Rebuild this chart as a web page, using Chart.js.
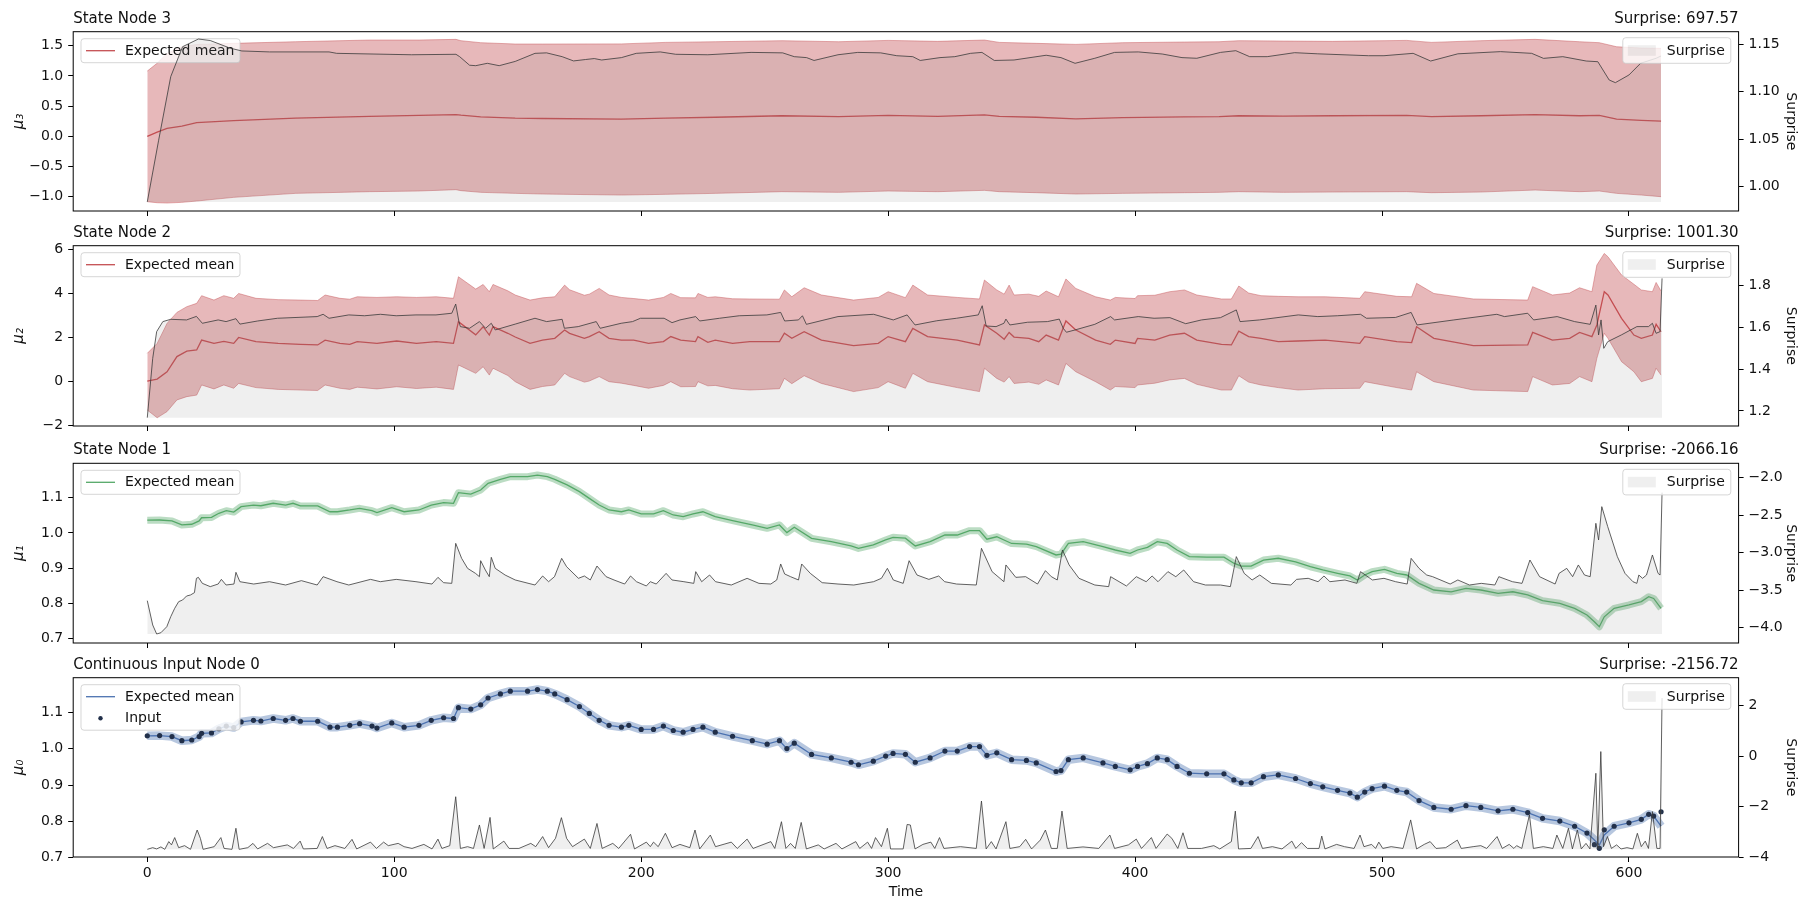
<!DOCTYPE html>
<html>
<head>
<meta charset="utf-8">
<title>Node trajectories</title>
<script src="https://cdn.jsdelivr.net/npm/chart.js@4.4.1/dist/chart.umd.min.js"></script>
<style>
    html, body { margin: 0; padding: 0; background: #ffffff; }
    body { position: relative; width: 1811px; height: 911px; overflow: hidden; }
    canvas { position: absolute; left: 0; }
</style>
</head>
<body>
<canvas id="node3Chart"></canvas>
<canvas id="node2Chart"></canvas>
<canvas id="node1Chart"></canvas>
<canvas id="node0Chart"></canvas>
<script>
// ---- shared time axis ----
const timeTicks = [0, 100, 200, 300, 400, 500, 600];
const timeRange = [-30.0, 644.4];

// ---- State Node 3 ----
const node3BandT = [0, 4, 8, 14, 20, 35, 60, 90, 110, 125, 127, 135, 149, 160, 192, 210, 230, 257, 280, 300, 320, 339, 345, 360, 376, 395, 420, 434, 442, 460, 480, 510, 520, 540, 562, 580, 588, 595, 605, 613];
const node3Mean = [0.0, 0.07, 0.13, 0.17, 0.225, 0.26, 0.30, 0.33, 0.345, 0.36, 0.35, 0.32, 0.30, 0.295, 0.285, 0.30, 0.315, 0.34, 0.325, 0.345, 0.33, 0.355, 0.33, 0.315, 0.29, 0.31, 0.32, 0.325, 0.34, 0.335, 0.34, 0.345, 0.325, 0.34, 0.36, 0.34, 0.345, 0.285, 0.265, 0.25];
const node3Upper = [1.08, 1.21, 1.373, 1.483, 1.52, 1.539, 1.566, 1.594, 1.594, 1.605, 1.583, 1.55, 1.528, 1.528, 1.53, 1.555, 1.566, 1.583, 1.566, 1.588, 1.572, 1.594, 1.555, 1.539, 1.522, 1.55, 1.561, 1.566, 1.583, 1.577, 1.572, 1.588, 1.555, 1.583, 1.605, 1.566, 1.55, 1.483, 1.461, 1.456];
const node3Lower = [-1.083, -1.10, -1.105, -1.094, -1.072, -1.011, -0.945, -0.917, -0.906, -0.884, -0.90, -0.928, -0.945, -0.956, -0.973, -0.961, -0.945, -0.917, -0.928, -0.906, -0.917, -0.895, -0.917, -0.934, -0.956, -0.945, -0.934, -0.928, -0.917, -0.928, -0.923, -0.917, -0.934, -0.923, -0.89, -0.917, -0.906, -0.945, -0.973, -1.0];
const node3SurpriseT = [0, 4.6, 9.5, 14.3, 20.7, 25.5, 33.5, 38.3, 49.5, 73.6, 76.7, 107, 125, 126.5, 130.5, 133, 137.7, 142.5, 149, 157, 161.7, 168, 172.6, 177.5, 181, 184, 192, 198, 207.7, 214, 227, 244.5, 257.3, 262, 267, 270, 279.7, 287.7, 297, 303.5, 310, 313, 321, 327, 333.4, 338, 343, 351, 364, 370, 375.7, 383.7, 391.7, 401.3, 411, 419, 425, 434.6, 440.8, 446.4, 453.5, 464.6, 474, 494.5, 500.8, 512.6, 519.7, 530.7, 548, 560.6, 565.4, 573.2, 582.7, 587.4, 592, 594.5, 600, 604.7, 611, 613];
const node3Surprise = [0.984, 1.049, 1.116, 1.1475, 1.1556, 1.154, 1.146, 1.143, 1.142, 1.142, 1.1405, 1.139, 1.1395, 1.137, 1.128, 1.1275, 1.130, 1.1275, 1.132, 1.1405, 1.141, 1.137, 1.1325, 1.134, 1.135, 1.1335, 1.136, 1.1405, 1.142, 1.1395, 1.139, 1.1415, 1.141, 1.137, 1.136, 1.133, 1.139, 1.1415, 1.141, 1.138, 1.137, 1.133, 1.136, 1.137, 1.1405, 1.1415, 1.133, 1.1335, 1.1385, 1.136, 1.130, 1.1353, 1.1415, 1.142, 1.1398, 1.136, 1.1353, 1.1415, 1.1433, 1.137, 1.137, 1.1412, 1.140, 1.138, 1.138, 1.1405, 1.1324, 1.140, 1.1423, 1.1405, 1.1352, 1.137, 1.1324, 1.1317, 1.1124, 1.1096, 1.1177, 1.130, 1.1353, 1.1377];
const node3LeftTicks = [-1.0, -0.5, 0.0, 0.5, 1.0, 1.5];
const node3RightTicks = [1.00, 1.05, 1.10, 1.15];
const node3LeftRange = [-1.237, 1.732];
const node3RightRange = [0.9744, 1.1633];

// ---- State Node 2 ----
const node2BandT = [0, 4, 8, 12, 16, 20, 22, 27, 31, 35, 37, 44, 53, 62, 69, 72, 78, 82, 85, 93, 101, 109, 117, 124, 126, 133, 136, 138.5, 140, 146, 149, 155, 160, 165, 169, 171, 177, 179, 183, 187, 192, 197, 203, 209, 212, 216, 222, 223, 227, 230, 237, 244, 256, 258, 261, 266, 273, 286, 296, 300, 307, 310, 316, 328, 337, 339, 344, 347, 349, 351, 357, 361, 364, 369, 372, 376, 384, 390, 392, 400, 401, 408, 414, 420, 425, 435, 439, 442, 446, 451, 458, 466, 477, 491, 493, 506, 512, 514, 521, 537, 559, 561, 569, 576, 580, 585, 587, 590, 591.5, 597, 602, 605, 609.5, 611, 613];
const node2Mean = [0.0, 0.09, 0.42, 1.11, 1.36, 1.41, 1.86, 1.71, 1.80, 1.71, 1.98, 1.79, 1.71, 1.67, 1.64, 1.86, 1.71, 1.67, 1.79, 1.71, 1.82, 1.71, 1.79, 1.71, 2.70, 2.10, 2.47, 2.09, 2.47, 2.17, 2.0, 1.71, 1.86, 1.94, 2.32, 2.17, 1.94, 2.02, 2.24, 1.94, 1.86, 1.86, 1.71, 1.79, 2.02, 1.86, 1.79, 2.02, 1.76, 1.86, 1.71, 1.79, 1.79, 2.17, 1.94, 2.24, 1.86, 1.61, 1.71, 2.02, 1.79, 2.39, 2.02, 1.86, 1.64, 2.55, 2.17, 1.90, 2.21, 2.0, 1.94, 1.79, 2.09, 1.86, 2.73, 2.32, 1.86, 1.67, 1.86, 1.71, 1.94, 1.86, 2.09, 2.17, 1.86, 1.67, 1.64, 2.27, 2.02, 1.94, 1.79, 1.82, 1.86, 1.71, 2.02, 1.79, 1.75, 2.47, 1.94, 1.61, 1.64, 2.21, 1.86, 1.94, 2.21, 2.02, 2.55, 4.06, 3.91, 2.85, 2.09, 1.94, 2.09, 2.58, 2.24];
const node2Upper = [1.26, 1.71, 2.62, 3.12, 3.38, 3.53, 3.88, 3.68, 3.88, 3.76, 3.98, 3.76, 3.70, 3.68, 3.66, 3.91, 3.76, 3.72, 3.83, 3.80, 3.83, 3.80, 3.83, 3.76, 4.74, 4.18, 4.39, 4.06, 4.39, 4.10, 3.91, 3.68, 3.78, 3.83, 4.36, 4.15, 3.90, 3.95, 4.21, 3.91, 3.80, 3.75, 3.68, 3.80, 3.98, 3.79, 3.78, 3.98, 3.80, 3.83, 3.74, 3.73, 3.72, 4.14, 3.83, 4.24, 3.91, 3.68, 3.80, 4.06, 3.79, 4.36, 3.91, 3.80, 3.73, 4.59, 4.14, 3.95, 4.36, 3.91, 3.95, 3.85, 4.09, 3.83, 4.64, 4.21, 3.83, 3.68, 3.80, 3.75, 3.88, 3.90, 4.06, 4.14, 3.91, 3.73, 3.73, 4.32, 4.0, 3.88, 3.85, 3.83, 3.83, 3.76, 4.06, 3.85, 3.83, 4.44, 3.98, 3.73, 3.68, 4.29, 3.91, 4.0, 4.24, 4.06, 5.27, 5.80, 5.65, 4.82, 4.40, 4.14, 4.06, 4.48, 4.09];
const node2Lower = [-1.32, -1.67, -1.39, -0.86, -0.71, -0.64, -0.18, -0.36, -0.18, -0.33, -0.11, -0.30, -0.38, -0.41, -0.43, -0.18, -0.33, -0.38, -0.28, -0.36, -0.26, -0.34, -0.28, -0.38, 0.73, 0.35, 0.65, 0.27, 0.58, 0.25, -0.03, -0.38, -0.25, -0.18, 0.35, 0.20, -0.05, 0.0, 0.20, -0.03, -0.10, -0.20, -0.33, -0.20, -0.03, -0.26, -0.25, -0.03, -0.22, -0.20, -0.35, -0.41, -0.35, 0.12, -0.12, 0.24, -0.11, -0.48, -0.30, -0.03, -0.33, 0.35, -0.03, -0.30, -0.48, 0.58, 0.12, -0.05, 0.20, -0.11, -0.05, -0.15, 0.05, -0.18, 0.80, 0.42, -0.03, -0.41, -0.25, -0.30, -0.18, -0.10, 0.05, 0.12, -0.15, -0.41, -0.41, 0.24, -0.05, -0.18, -0.30, -0.41, -0.35, -0.33, -0.03, -0.30, -0.41, 0.42, -0.03, -0.41, -0.48, 0.20, -0.18, -0.11, 0.20, -0.03, 1.03, 2.17, 1.94, 0.88, 0.42, -0.03, 0.12, 0.58, 0.27];
const node2SurpriseT = [0, 2.2, 3.8, 6.3, 9.5, 15.9, 19.9, 22.3, 28.7, 31.9, 35.9, 37.5, 44.7, 52.7, 68.8, 71.2, 73.6, 81.6, 88, 94.4, 100.8, 108.8, 116.9, 123.3, 124.9, 126.2, 126.8, 130.5, 134.5, 137, 139.3, 140.9, 149, 157, 161.7, 168, 168.9, 174.5, 181.8, 183.4, 191.9, 196.5, 199.7, 209.3, 212.5, 215.7, 222.1, 223.7, 231.7, 239.7, 250.9, 256.5, 258.1, 263.7, 265.3, 266.9, 279.7, 294.1, 302.1, 307.7, 310.9, 319.7, 327.7, 336.5, 338.1, 339.7, 343.7, 346.9, 347.7, 349.3, 356.5, 364.5, 369.3, 370.9, 372.2, 375.7, 383.7, 390.1, 391.7, 401.3, 407.7, 414.1, 420.5, 426.9, 434.6, 441, 442.5, 450.4, 466.1, 474, 481.9, 491.3, 493.7, 505.5, 511.8, 514.2, 529.1, 546.5, 549.6, 559, 561.4, 570.9, 578, 584.3, 586.6, 587.7, 588.7, 589.8, 591.4, 596.9, 603.2, 607.9, 609.5, 611, 612.6, 613.4];
const node2Surprise = [1.168, 1.452, 1.58, 1.628, 1.639, 1.636, 1.653, 1.62, 1.636, 1.628, 1.642, 1.616, 1.631, 1.644, 1.652, 1.663, 1.644, 1.66, 1.656, 1.663, 1.656, 1.66, 1.66, 1.668, 1.712, 1.628, 1.604, 1.596, 1.628, 1.596, 1.62, 1.588, 1.616, 1.644, 1.628, 1.639, 1.596, 1.604, 1.628, 1.596, 1.62, 1.628, 1.644, 1.644, 1.623, 1.636, 1.652, 1.631, 1.644, 1.656, 1.66, 1.672, 1.631, 1.636, 1.656, 1.615, 1.652, 1.663, 1.636, 1.66, 1.612, 1.632, 1.644, 1.66, 1.704, 1.607, 1.604, 1.62, 1.64, 1.612, 1.625, 1.628, 1.64, 1.596, 1.577, 1.588, 1.615, 1.652, 1.636, 1.652, 1.644, 1.647, 1.618, 1.636, 1.647, 1.684, 1.628, 1.636, 1.66, 1.652, 1.656, 1.663, 1.644, 1.648, 1.672, 1.612, 1.636, 1.663, 1.652, 1.668, 1.636, 1.652, 1.628, 1.615, 1.707, 1.564, 1.636, 1.50, 1.532, 1.564, 1.604, 1.604, 1.62, 1.572, 1.58, 1.835];
const node2LeftTicks = [-2, 0, 2, 4, 6];
const node2RightTicks = [1.2, 1.4, 1.6, 1.8];
const node2LeftRange = [-2.045, 6.152];
const node2RightRange = [1.128, 1.9915];

// ---- State Node 1 / Continuous Input Node 0 (same time grid) ----
const meanTime = [0, 5, 10, 14, 18, 21, 22, 26, 29, 32, 35, 38, 43, 46, 51, 56, 59, 62, 69, 74, 77, 82, 86, 91, 93, 99, 104, 110, 115, 120, 124, 126, 131, 135, 138, 143, 147, 154, 158, 162, 165, 170, 175, 179, 183, 187, 192, 195, 200, 205, 209, 213, 217, 221, 225, 230, 237, 245, 251, 256, 259, 262, 269, 277, 285, 288, 294, 299, 302, 307, 311, 317, 323, 328, 333, 337, 340, 344, 350, 356, 360, 368, 370, 373, 379, 387, 392, 398, 401, 405, 409, 413, 417, 422, 429, 436, 440, 443, 447, 452, 458, 465, 471, 476, 482, 487, 490, 493, 496, 501, 506, 510, 515, 521, 528, 534, 540, 547, 553, 559, 565, 572, 578, 583, 586, 588, 590, 594, 600, 605, 608, 610, 613];
const node1Mean = [1.036, 1.0366, 1.034, 1.0225, 1.0245, 1.034, 1.043, 1.044, 1.0556, 1.063, 1.059, 1.0745, 1.079, 1.077, 1.084, 1.079, 1.084, 1.0764, 1.0764, 1.060, 1.060, 1.065, 1.0697, 1.063, 1.0575, 1.0716, 1.060, 1.065, 1.079, 1.086, 1.084, 1.114, 1.110, 1.1217, 1.1407, 1.152, 1.1596, 1.1596, 1.164, 1.1596, 1.152, 1.136, 1.117, 1.098, 1.079, 1.065, 1.060, 1.065, 1.0537, 1.0537, 1.063, 1.0508, 1.046, 1.0537, 1.060, 1.046, 1.0348, 1.0225, 1.013, 1.0225, 1.0007, 1.0158, 0.9846, 0.975, 0.963, 0.956, 0.966, 0.980, 0.9875, 0.985, 0.963, 0.975, 0.994, 0.994, 1.0064, 1.0064, 0.982, 0.989, 0.970, 0.968, 0.961, 0.9374, 0.940, 0.970, 0.975, 0.961, 0.9515, 0.942, 0.9515, 0.959, 0.975, 0.970, 0.9515, 0.9326, 0.931, 0.931, 0.914, 0.906, 0.906, 0.923, 0.928, 0.918, 0.904, 0.895, 0.8853, 0.8778, 0.8664, 0.8806, 0.890, 0.8967, 0.8853, 0.8806, 0.857, 0.838, 0.833, 0.8428, 0.838, 0.8286, 0.833, 0.8239, 0.8078, 0.8003, 0.786, 0.767, 0.748, 0.734, 0.762, 0.786, 0.7955, 0.805, 0.819, 0.814, 0.786];
const node1SurpriseT = [0, 2.2, 3.8, 5.5, 7.9, 9.5, 11.1, 12.7, 14.3, 15.9, 17.5, 19.1, 19.9, 20.7, 22.3, 25.5, 28.7, 30, 31.9, 35.1, 35.9, 37.5, 43.1, 49.5, 56, 62.4, 68.8, 71.2, 76.8, 81.6, 90.4, 94.4, 100.8, 108.8, 115.3, 117.7, 120, 123.3, 124.9, 127.3, 129.7, 132.9, 134.5, 135, 136.9, 138.5, 139.3, 140.9, 144.9, 149, 157, 160.1, 162.5, 164.9, 167.8, 169.8, 174.6, 177, 179.4, 182.1, 185.8, 189, 193.3, 195.7, 198.1, 202.1, 203.7, 206.1, 210.1, 212.5, 217.3, 221.3, 222.1, 224.5, 227.7, 230.1, 236.5, 242.9, 247.7, 252.5, 254.9, 256.5, 258.1, 260.5, 263.7, 265, 268.5, 273.3, 279.7, 286.1, 294.1, 297.3, 299.7, 302.1, 306.1, 308.5, 311.7, 316.5, 320.5, 322.9, 327.7, 335.7, 337.8, 342.1, 346.9, 347.7, 351.7, 355.7, 360.5, 363.7, 366.1, 368.5, 370.6, 373.3, 377.3, 383.7, 389.3, 390.1, 396.5, 400.5, 404.5, 406.9, 409.3, 413.3, 416.5, 419.7, 423.7, 428.5, 434.6, 438.6, 441, 444.2, 447.4, 450.5, 455.2, 463.1, 465.4, 470.1, 474.1, 476.5, 478.9, 485, 489.8, 491.3, 496.1, 500.8, 505.5, 510.2, 511.8, 515, 518.1, 520.5, 527.6, 530.7, 535.4, 540.2, 545.7, 547.3, 552.8, 556.7, 559.9, 563.8, 570.1, 571.7, 574.8, 577.2, 579.5, 582, 584.3, 586.6, 587.7, 589, 591.4, 595.3, 598.4, 601.6, 603.2, 604, 605.5, 607.1, 609.5, 611.8, 612.6, 613.4];
const node1Surprise = [-3.64, -3.964, -4.084, -4.067, -3.987, -3.853, -3.742, -3.653, -3.631, -3.578, -3.564, -3.533, -3.342, -3.329, -3.409, -3.453, -3.418, -3.356, -3.431, -3.418, -3.262, -3.387, -3.418, -3.387, -3.431, -3.373, -3.431, -3.32, -3.387, -3.431, -3.356, -3.387, -3.356, -3.387, -3.418, -3.329, -3.4, -3.409, -2.876, -3.076, -3.209, -3.276, -3.32, -3.107, -3.231, -3.32, -3.062, -3.209, -3.298, -3.364, -3.431, -3.311, -3.387, -3.32, -3.076, -3.187, -3.342, -3.311, -3.364, -3.178, -3.32, -3.364, -3.418, -3.311, -3.387, -3.444, -3.387, -3.418, -3.276, -3.364, -3.387, -3.409, -3.253, -3.387, -3.298, -3.387, -3.431, -3.342, -3.409, -3.418, -3.364, -3.151, -3.284, -3.32, -3.364, -3.151, -3.276, -3.4, -3.418, -3.431, -3.387, -3.342, -3.209, -3.364, -3.409, -3.107, -3.298, -3.356, -3.311, -3.387, -3.418, -3.431, -2.942, -3.253, -3.387, -3.164, -3.329, -3.32, -3.418, -3.24, -3.32, -3.364, -2.964, -3.164, -3.342, -3.431, -3.453, -3.32, -3.444, -3.32, -3.387, -3.311, -3.387, -3.253, -3.32, -3.231, -3.387, -3.431, -3.431, -3.453, -3.053, -3.276, -3.364, -3.298, -3.409, -3.431, -3.356, -3.342, -3.387, -3.311, -3.387, -3.364, -3.409, -3.253, -3.364, -3.342, -3.387, -3.418, -3.076, -3.209, -3.298, -3.32, -3.418, -3.364, -3.431, -3.409, -3.431, -3.32, -3.387, -3.409, -3.098, -3.32, -3.418, -3.276, -3.209, -3.32, -3.164, -3.298, -3.32, -2.609, -2.831, -2.387, -2.653, -3.053, -3.276, -3.387, -3.409, -3.298, -3.342, -3.298, -3.031, -3.276, -3.298, -2.2];
const node1LeftTicks = [0.7, 0.8, 0.9, 1.0, 1.1];
const node1RightTicks = [-4.0, -3.5, -3.0, -2.5, -2.0];
const node1LeftRange = [0.6877, 1.1974];
const node1RightRange = [-4.204, -1.809];

// node 0 expected mean reads the same as node 1 in the picture
const node0Mean = node1Mean;
const node0Input = [1.036, 1.0366, 1.034, 1.0225, 1.0245, 1.034, 1.043, 1.044, 1.0556, 1.063, 1.059, 1.0745, 1.079, 1.077, 1.084, 1.079, 1.084, 1.0764, 1.0764, 1.060, 1.060, 1.065, 1.0697, 1.063, 1.0575, 1.0716, 1.060, 1.065, 1.079, 1.086, 1.084, 1.114, 1.110, 1.1217, 1.1407, 1.152, 1.1596, 1.1596, 1.164, 1.1596, 1.152, 1.136, 1.117, 1.098, 1.079, 1.065, 1.060, 1.065, 1.0537, 1.0537, 1.063, 1.0508, 1.046, 1.0537, 1.060, 1.046, 1.0348, 1.0225, 1.013, 1.0225, 1.0007, 1.0158, 0.9846, 0.975, 0.963, 0.956, 0.966, 0.980, 0.9875, 0.985, 0.963, 0.975, 0.994, 0.994, 1.0064, 1.0064, 0.982, 0.989, 0.970, 0.968, 0.961, 0.9374, 0.940, 0.970, 0.975, 0.961, 0.9515, 0.942, 0.9515, 0.959, 0.975, 0.970, 0.9515, 0.9326, 0.931, 0.931, 0.914, 0.906, 0.906, 0.923, 0.928, 0.918, 0.904, 0.895, 0.8853, 0.8778, 0.8664, 0.8806, 0.890, 0.8967, 0.8853, 0.8806, 0.857, 0.838, 0.833, 0.8428, 0.838, 0.8286, 0.833, 0.8239, 0.8078, 0.8003, 0.786, 0.767, 0.735, 0.725, 0.776, 0.786, 0.7955, 0.805, 0.819, 0.814, 0.826];
const node0SurpriseT = [0, 2.2, 3.8, 5.5, 7.1, 8.7, 9.8, 11.1, 12.7, 15.1, 17.5, 20.2, 21.5, 22.6, 27.1, 29.8, 31.1, 34.3, 35.9, 37.2, 40.7, 42.8, 44.7, 48.7, 51.1, 56.7, 59.2, 61.9, 63.2, 68.8, 70.9, 72.8, 76, 80, 82.9, 84.8, 90.4, 92.8, 95.7, 97.6, 101.6, 104, 107.2, 112, 115.3, 117.7, 119.3, 122.5, 124.9, 126.8, 129.7, 132.1, 134.5, 136.4, 138.8, 140.1, 144.4, 146.5, 150.5, 155.3, 157.3, 160.1, 162.5, 165.3, 167.7, 169.8, 172.2, 177, 179.4, 182.1, 184.2, 188.5, 190.9, 195.7, 197.3, 202.1, 203.7, 205, 206.9, 209.8, 212.5, 215.7, 219.7, 221.8, 223.7, 228, 230.1, 236.5, 238.9, 242.9, 245.3, 252.5, 254.1, 256.8, 258.6, 260.5, 262.4, 264.8, 266.9, 271.7, 274.1, 278.9, 281.3, 286.9, 288.5, 291.7, 293.3, 294.9, 297.3, 299.7, 301, 306.1, 307.7, 309, 310.9, 314.1, 317.3, 318.9, 320.8, 322.6, 329.3, 335.7, 337.8, 339.7, 341.8, 343.7, 347.7, 349.3, 353.3, 355.7, 358.1, 361.6, 363.7, 366.1, 368.5, 370.4, 372.5, 378.9, 385.3, 389.8, 391.7, 397.3, 400.5, 402.6, 404.5, 406.6, 408.5, 413, 414.9, 417.3, 419.4, 421.3, 426.9, 431.9, 434.3, 439, 440.6, 441.9, 446.9, 449.8, 451.6, 455.6, 459.5, 463.5, 465.1, 467.4, 469.8, 474.5, 475.6, 476.9, 481.6, 484.8, 488.7, 491.1, 492.7, 495.8, 497.4, 498.7, 500.3, 503.7, 508.5, 511.6, 514, 517.1, 519.5, 521.9, 525.8, 530.5, 532.1, 536.9, 540, 542.4, 546.6, 548.7, 551.5, 553.4, 554.5, 556.6, 559.7, 561.3, 565.3, 569.2, 570.8, 573.2, 575.5, 577.1, 579.1, 580.7, 582.6, 584.2, 586.6, 587.4, 588.6, 589.7, 591.3, 592.9, 595, 596.8, 599.2, 601.6, 603.4, 605, 606.6, 607.9, 609.5, 611.3, 612.6, 613.4];
const node0Surprise = [-3.696, -3.63, -3.68, -3.60, -3.696, -3.39, -3.52, -3.23, -3.63, -3.55, -3.696, -2.93, -3.26, -3.696, -3.59, -3.23, -3.66, -3.696, -2.86, -3.696, -3.63, -3.46, -3.68, -3.46, -3.63, -3.52, -3.66, -3.37, -3.68, -3.66, -3.19, -3.66, -3.55, -3.66, -3.30, -3.68, -3.41, -3.66, -3.41, -3.55, -3.46, -3.59, -3.66, -3.50, -3.68, -3.29, -3.66, -3.55, -1.61, -3.66, -3.59, -3.66, -2.73, -3.66, -2.43, -3.68, -3.37, -3.66, -3.66, -3.46, -3.59, -3.19, -3.63, -3.26, -2.44, -3.26, -3.59, -3.29, -3.66, -2.67, -3.66, -3.46, -3.66, -3.10, -3.68, -3.41, -3.59, -3.41, -3.59, -3.06, -3.63, -3.50, -3.63, -2.93, -3.68, -3.13, -3.59, -3.41, -3.66, -3.29, -3.66, -3.39, -3.66, -2.60, -3.66, -3.46, -3.66, -2.63, -3.68, -3.52, -3.68, -3.46, -3.68, -3.39, -3.66, -3.41, -3.66, -3.23, -3.59, -2.86, -3.68, -3.68, -2.71, -2.73, -3.68, -3.50, -3.41, -3.66, -3.23, -3.66, -3.59, -3.66, -1.78, -3.68, -3.39, -3.68, -2.60, -3.66, -3.59, -3.30, -3.68, -3.33, -2.93, -3.66, -3.66, -2.18, -3.66, -3.60, -3.66, -3.13, -3.66, -3.52, -3.29, -3.66, -3.46, -3.23, -3.66, -3.09, -3.26, -3.66, -3.04, -3.66, -3.66, -3.55, -3.68, -3.39, -2.18, -3.68, -3.66, -3.19, -3.66, -3.59, -3.68, -3.37, -3.66, -3.43, -3.66, -3.66, -3.17, -3.68, -3.50, -3.59, -3.66, -3.13, -3.59, -3.50, -3.66, -3.41, -3.66, -3.59, -3.66, -2.53, -3.68, -3.50, -3.39, -3.66, -3.63, -3.33, -3.66, -3.59, -3.55, -3.66, -3.19, -3.66, -3.50, -3.66, -3.55, -3.66, -2.33, -3.66, -3.59, -3.66, -3.13, -3.66, -2.86, -3.68, -2.93, -3.68, -3.46, -3.68, -0.68, -3.66, 0.18, -3.59, -3.19, -3.66, -3.52, -3.68, -3.63, -3.68, -3.06, -3.59, -3.37, -3.66, -2.20, -3.66, -3.66, 2.3];
const node0LeftTicks = [0.7, 0.8, 0.9, 1.0, 1.1];
const node0RightTicks = [-4, -2, 0, 2];
const node0LeftRange = [0.7009, 1.1968];
const node0RightRange = [-4.0, 3.11];

// ---- styling ----
const FONT = "'DejaVu Sans', sans-serif";
const RED = "#c44e52";
const GREEN = "#55a868";
const BLUE = "#4c72b0";
const DOT = "#22304a";
const SURPRISE_FILL = "rgba(128,128,128,0.125)";
const CANVAS_W = 1811;
const LEFT_AXIS_W = 73.2;
const RIGHT_AXIS_W = 72.4;
const TEXT_SIZE = 14;

Chart.defaults.font.family = FONT;
Chart.defaults.color = "#111";

function pts(xs, ys) {
    return xs.map((x, i) => ({ x: x, y: ys[i] }));
}

function fmtTick(v, dec) {
    const s = Math.abs(v).toFixed(dec);
    return (v < 0 && Number(s) !== 0 ? "\u2212" : "") + s;
}

function bandEdge(xs, ys, color, fillTarget) {
    return {
        data: pts(xs, ys), yAxisID: "y",
        borderColor: color + "70", borderWidth: 1,
        backgroundColor: color + "66",
        pointRadius: 0, fill: fillTarget, order: 6
    };
}

function ribbon(xs, ys, color, width) {
    return {
        data: pts(xs, ys), yAxisID: "y",
        borderColor: color + "66", borderWidth: width,
        borderJoinStyle: "round", pointRadius: 0, fill: false, order: 6
    };
}

function meanLine(xs, ys, color) {
    return {
        data: pts(xs, ys), yAxisID: "y",
        borderColor: color, borderWidth: 1.3,
        pointRadius: 0, fill: false, order: 4
    };
}

function surpriseLine(xs, ys) {
    return {
        data: pts(xs, ys), yAxisID: "y2",
        borderColor: "#3a3a3a", borderWidth: 0.8,
        backgroundColor: SURPRISE_FILL,
        pointRadius: 0, fill: { value: Math.min(...ys) }, order: 1
    };
}

function yAxis(position, range, ticks, dec, width, label, labelPad, italic) {
    return {
        type: "linear", position: position, min: range[0], max: range[1],
        afterBuildTicks: s => { s.ticks = ticks.map(v => ({ value: v })); },
        afterFit: s => { s.width = width; },
        ticks: { callback: v => fmtTick(v, dec), color: "#111", font: { size: TEXT_SIZE }, padding: 5, autoSkip: false },
        grid: { drawOnChartArea: false, drawTicks: true, tickLength: 5, color: "#000", lineWidth: 1 },
        border: { display: false },
        title: {
            display: true, text: label, color: "#111",
            font: { size: italic ? 15 : TEXT_SIZE, style: italic ? "italic" : "normal" },
            padding: { top: labelPad, bottom: 0 }
        }
    };
}

function xAxis(height, showLabels) {
    return {
        type: "linear", min: timeRange[0], max: timeRange[1],
        afterBuildTicks: s => { s.ticks = timeTicks.map(v => ({ value: v })); },
        afterFit: s => { s.height = height; },
        ticks: { color: showLabels ? "#111" : "rgba(0,0,0,0)", font: { size: TEXT_SIZE }, padding: 3, maxRotation: 0, autoSkip: false },
        grid: { drawOnChartArea: false, drawTicks: true, tickLength: 5, color: "#000", lineWidth: 1 },
        border: { display: false },
        title: { display: showLabels, text: "Time", color: "#111", font: { size: TEXT_SIZE }, padding: { top: 0, bottom: 10 } }
    };
}

function legendBox(ctx, x, y, w, h) {
    ctx.beginPath();
    if (ctx.roundRect) ctx.roundRect(x, y, w, h, 3);
    else ctx.rect(x, y, w, h);
    ctx.fillStyle = "rgba(255,255,255,0.8)";
    ctx.fill();
    ctx.strokeStyle = "rgba(204,204,204,0.8)";
    ctx.lineWidth = 1;
    ctx.stroke();
}

function drawLeftLegend(chart, entries) {
    const { ctx, chartArea: a } = chart;
    const x = a.left + 7.8;
    const y = a.top + 7;
    const h = 2.5 + 21.5 * entries.length;
    ctx.save();
    legendBox(ctx, x, y, 159, h);
    ctx.font = TEXT_SIZE + "px " + FONT;
    ctx.textBaseline = "middle";
    ctx.textAlign = "left";
    entries.forEach((e, i) => {
        const cy = y + 12 + 21.5 * i;
        if (e.kind === "line") {
            ctx.strokeStyle = e.color;
            ctx.lineWidth = 1.3;
            ctx.beginPath();
            ctx.moveTo(x + 5, cy);
            ctx.lineTo(x + 34, cy);
            ctx.stroke();
        } else {
            ctx.fillStyle = e.color;
            ctx.beginPath();
            ctx.arc(x + 19.5, cy, 2.2, 0, Math.PI * 2);
            ctx.fill();
        }
        ctx.fillStyle = "#111";
        ctx.fillText(e.label, x + 44, cy + 0.5);
    });
    ctx.restore();
}

function drawRightLegend(chart) {
    const { ctx, chartArea: a } = chart;
    const w = 108;
    const x = a.right - 7.8 - w;
    const y = a.top + 6;
    ctx.save();
    legendBox(ctx, x, y, w, 25.6);
    const cy = y + 12.8;
    ctx.fillStyle = SURPRISE_FILL;
    ctx.fillRect(x + 5, cy - 5.3, 28, 10.6);
    ctx.font = TEXT_SIZE + "px " + FONT;
    ctx.textBaseline = "middle";
    ctx.fillStyle = "#111";
    ctx.fillText("Surprise", x + 44, cy + 0.5);
    ctx.restore();
}

const panelDecor = {
    id: "panelDecor",
    afterDatasetDraw(chart, args, opts) {
        if (args.index === opts.legendAfter) drawLeftLegend(chart, opts.entries);
    },
    afterDraw(chart, args, opts) {
        const { ctx, chartArea: a } = chart;
        ctx.save();
        ctx.strokeStyle = "#000";
        ctx.lineWidth = 1;
        ctx.strokeRect(a.left, a.top, a.right - a.left, a.bottom - a.top);
        ctx.fillStyle = "#111";
        ctx.font = "15px " + FONT;
        ctx.textBaseline = "alphabetic";
        ctx.textAlign = "left";
        ctx.fillText(opts.title, a.left, a.top - 9);
        ctx.textAlign = "right";
        ctx.fillText(opts.surprise, a.right, a.top - 9);
        ctx.restore();
        drawRightLegend(chart);
    }
};

function renderPanel(p) {
    const canvas = document.getElementById(p.id);
    const height = p.canvasBottom - p.canvasTop;
    canvas.width = CANVAS_W;
    canvas.height = height;
    canvas.style.top = p.canvasTop + "px";
    canvas.style.width = CANVAS_W + "px";
    canvas.style.height = height + "px";

    return new Chart(canvas.getContext("2d"), {
        type: "line",
        data: { datasets: p.datasets },
        options: {
            responsive: false,
            animation: false,
            devicePixelRatio: 1,
            events: [],
            layout: { padding: { top: p.areaTop - p.canvasTop, left: 0, right: 0, bottom: 0 } },
            plugins: {
                legend: { display: false },
                tooltip: { enabled: false },
                panelDecor: { title: p.title, surprise: p.surprise, entries: p.entries, legendAfter: p.legendAfter }
            },
            scales: {
                x: xAxis(p.canvasBottom - p.areaBottom, p.bottom),
                y: yAxis("left", p.leftRange, p.leftTicks, p.leftDec, LEFT_AXIS_W, p.yLabel, 10, true),
                y2: yAxis("right", p.rightRange, p.rightTicks, p.rightDec, RIGHT_AXIS_W, "Surprise", 12.3, false)
            }
        },
        plugins: [panelDecor]
    });
}

renderPanel({
    id: "node3Chart", canvasTop: 0, areaTop: 31.7, areaBottom: 211, canvasBottom: 236, bottom: false,
    title: "State Node 3", surprise: "Surprise: 697.57", yLabel: "\u03bc\u2083",
    leftRange: node3LeftRange, leftTicks: node3LeftTicks, leftDec: 1,
    rightRange: node3RightRange, rightTicks: node3RightTicks, rightDec: 2,
    entries: [{ kind: "line", color: RED, label: "Expected mean" }], legendAfter: 2,
    datasets: [
        bandEdge(node3BandT, node3Upper, RED, "+1"),
        bandEdge(node3BandT, node3Lower, RED, false),
        meanLine(node3BandT, node3Mean, RED),
        surpriseLine(node3SurpriseT, node3Surprise)
    ]
});

renderPanel({
    id: "node2Chart", canvasTop: 214, areaTop: 245.7, areaBottom: 426, canvasBottom: 451, bottom: false,
    title: "State Node 2", surprise: "Surprise: 1001.30", yLabel: "\u03bc\u2082",
    leftRange: node2LeftRange, leftTicks: node2LeftTicks, leftDec: 0,
    rightRange: node2RightRange, rightTicks: node2RightTicks, rightDec: 1,
    entries: [{ kind: "line", color: RED, label: "Expected mean" }], legendAfter: 2,
    datasets: [
        bandEdge(node2BandT, node2Upper, RED, "+1"),
        bandEdge(node2BandT, node2Lower, RED, false),
        meanLine(node2BandT, node2Mean, RED),
        surpriseLine(node2SurpriseT, node2Surprise)
    ]
});

renderPanel({
    id: "node1Chart", canvasTop: 431, areaTop: 463.3, areaBottom: 643, canvasBottom: 668, bottom: false,
    title: "State Node 1", surprise: "Surprise: -2066.16", yLabel: "\u03bc\u2081",
    leftRange: node1LeftRange, leftTicks: node1LeftTicks, leftDec: 1,
    rightRange: node1RightRange, rightTicks: node1RightTicks, rightDec: 1,
    entries: [{ kind: "line", color: GREEN, label: "Expected mean" }], legendAfter: 1,
    datasets: [
        ribbon(meanTime, node1Mean, GREEN, 7),
        meanLine(meanTime, node1Mean, GREEN),
        surpriseLine(node1SurpriseT, node1Surprise)
    ]
});

renderPanel({
    id: "node0Chart", canvasTop: 646, areaTop: 677.7, areaBottom: 857, canvasBottom: 911, bottom: true,
    title: "Continuous Input Node 0", surprise: "Surprise: -2156.72", yLabel: "\u03bc\u2080",
    leftRange: node0LeftRange, leftTicks: node0LeftTicks, leftDec: 1,
    rightRange: node0RightRange, rightTicks: node0RightTicks, rightDec: 0,
    entries: [
        { kind: "line", color: BLUE, label: "Expected mean" },
        { kind: "dot", color: DOT, label: "Input" }
    ],
    legendAfter: 2,
    datasets: [
        ribbon(meanTime, node0Mean, BLUE, 8.5),
        meanLine(meanTime, node0Mean, BLUE),
        {
            data: pts(meanTime, node0Input), yAxisID: "y", showLine: false,
            pointRadius: 2.6, pointBackgroundColor: DOT, pointBorderWidth: 0, order: 3
        },
        surpriseLine(node0SurpriseT, node0Surprise)
    ]
});
</script>
</body>
</html>
